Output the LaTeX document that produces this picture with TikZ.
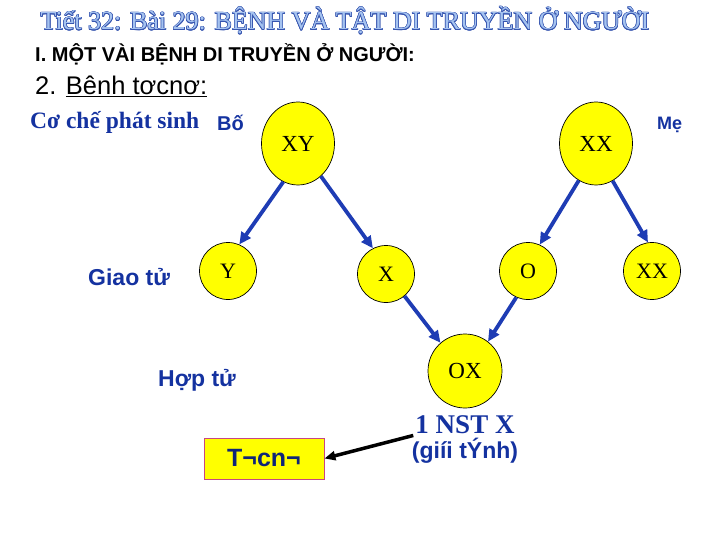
\documentclass[tikz,border=0pt]{standalone}
\usepackage{fontspec}
\setmainfont{Liberation Serif}
\setsansfont{Liberation Sans}
\usepackage[copies]{contour}
\usetikzlibrary{arrows.meta,shapes.geometric}
\definecolor{ink}{RGB}{20,50,160}
\definecolor{arrowblue}{RGB}{30,60,180}
\definecolor{cellyellow}{RGB}{255,255,0}
\definecolor{titlefill}{RGB}{165,195,240}
\definecolor{titleline}{RGB}{55,85,175}
\definecolor{boxline}{RGB}{200,70,130}
\contourlength{0.6pt}
\tikzset{
  cell/.style={draw=black, line width=0.7pt, fill=cellyellow, inner sep=0pt, font=\fontsize{23}{23}\selectfont},
  parent/.style={cell, ellipse, minimum width=73pt, minimum height=83pt},
  gamete/.style={cell, circle, minimum size=57pt, font=\fontsize{22}{22}\selectfont},
  zygote/.style={cell, circle, minimum size=74pt},
  label/.style={font=\sffamily\bfseries\fontsize{23}{23}\selectfont, text=ink, inner sep=0pt},
  flow/.style={-{Triangle[length=12pt,width=11pt]}, line width=3.8pt, draw=arrowblue},
  pointer/.style={-{Triangle[length=11pt,width=9pt]}, line width=3.5pt, draw=black}
}
\begin{document}
\begin{tikzpicture}[x=1pt,y=-1pt]
\useasboundingbox (0,0) rectangle (720,540);
% headings
\node[anchor=base, inner sep=0pt, text=titlefill, font=\fontsize{26}{26}\selectfont] (title) at (345,30) {\contour{titleline}{Tiết 32: Bài 29: BỆNH VÀ TẬT DI TRUYỀN Ở NGƯỜI}};
\node[anchor=base west, inner sep=0pt, font=\sffamily\bfseries\fontsize{20}{20}\selectfont] (section) at (35,62) {I. MỘT VÀI BỆNH DI TRUYỀN Ở NGƯỜI:};
\node[anchor=base west, inner sep=0pt, font=\sffamily\fontsize{25.5}{25.5}\selectfont] (subsection) at (35,95) {2. \underline{Bênh tơcnơ:}};
\node[anchor=base west, inner sep=0pt, text=ink, font=\bfseries\fontsize{23.5}{23.5}\selectfont] (mechanism) at (30,129) {Cơ chế phát sinh};
% parents
\node[label, anchor=base west, font=\sffamily\bfseries\fontsize{20}{20}\selectfont] (father) at (217,131) {Bố};
\node[parent] (fxy) at (298,143.5) {XY};
\node[parent] (mxx) at (596,143.5) {XX};
\node[label, anchor=base west, font=\sffamily\bfseries\fontsize{18}{18}\selectfont] (mother) at (657,130) {Mẹ};
% gametes
\node[label, anchor=base west] (gamlabel) at (88,285) {Giao tử};
\node[gamete] (gy) at (228,271) {Y};
\node[gamete] (gx) at (386,274) {X};
\node[gamete] (go) at (528,271) {O};
\node[gamete] (gxx) at (652,271) {XX};
% zygote
\node[label, anchor=base west] (ziglabel) at (158,386) {Hợp tử};
\node[zygote] (zox) at (465,371) {OX};
\node[anchor=base, inner sep=2pt, text=ink, font=\bfseries\fontsize{27}{27}\selectfont] (nst) at (465,433) {1 NST X};
\node[label, anchor=base] (sex) at (465,458) {(giíi tÝnh)};
\node[draw=boxline, fill=cellyellow, line width=0.8pt, minimum width=120pt, minimum height=41pt, text=ink!75!black, font=\sffamily\bfseries\fontsize{25}{25}\selectfont] (turner) at (264,458.5) {T¬cn¬};
% arrows
\draw[flow] (fxy.-111) -- (gy.67);
\draw[flow] (fxy.-55) -- (gx.117);
\draw[flow] (mxx.-115) -- (go.66);
\draw[flow] (mxx.-66) -- (gxx.98);
\draw[flow] (gx.-50) -- (zox.131);
\draw[flow] (go.-114) -- (zox.52);
\draw[pointer] (nst.south west) -- (turner.east);
\end{tikzpicture}
\end{document}
